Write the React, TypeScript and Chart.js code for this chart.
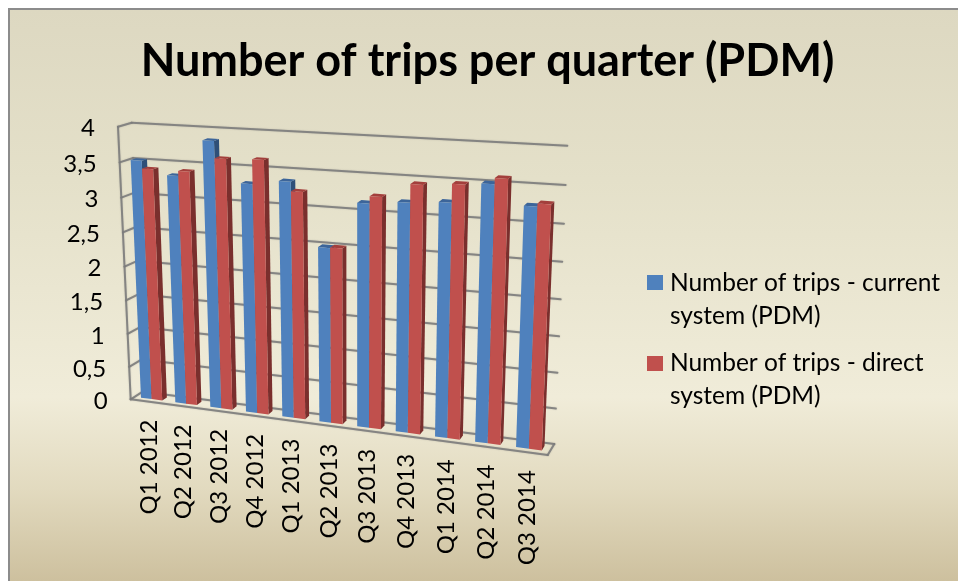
import React, { useEffect, useRef } from "react";
import { Chart, registerables } from "chart.js";

Chart.register(...registerables);

const categories = ["Q1 2012", "Q2 2012", "Q3 2012", "Q4 2012", "Q1 2013", "Q2 2013", "Q3 2013", "Q4 2013", "Q1 2014", "Q2 2014", "Q3 2014"];
const currentSystem = [3.52, 3.34, 3.86, 3.3, 3.37, 2.5, 3.15, 3.2, 3.24, 3.52, 3.27];
const directSystem = [3.41, 3.41, 3.62, 3.64, 3.24, 2.51, 3.25, 3.45, 3.49, 3.6, 3.31];
const currentLabel = ["Number of trips - current", "system (PDM)"];
const directLabel = ["Number of trips - direct", "system (PDM)"];
const titleText = "Number of trips per quarter (PDM)";

type P = [number, number];
const OX = 8, OY = 8; // canvas offset in the page
// Box corners in page pixels: [u=0,v=0], [u=1,v=0], [u=1,v=1], [u=0,v=1]
const frontQuad: P[] = [[130.7, 399.3], [547.7, 455], [559, 153], [118, 126.7]];
const backQuad: P[] = [[142.7, 391.7], [554.3, 444], [567.3, 145.7], [131.7, 122.7]];
const DEPTH_NEAR = 0.32, DEPTH_FAR = 0.72;

function makeHomography(q: P[]) {
  const [[x0, y0], [x1, y1], [x2, y2], [x3, y3]] = q;
  const dx1 = x1 - x2, dx2 = x3 - x2, sx = x0 - x1 + x2 - x3;
  const dy1 = y1 - y2, dy2 = y3 - y2, sy = y0 - y1 + y2 - y3;
  const den = dx1 * dy2 - dx2 * dy1;
  const g = (sx * dy2 - dx2 * sy) / den;
  const h = (dx1 * sy - sx * dy1) / den;
  const a = x1 - x0 + g * x1, b = x3 - x0 + h * x3, c = x0;
  const d = y1 - y0 + g * y1, e = y3 - y0 + h * y3, f = y0;
  return (u: number, v: number): P => {
    const w = g * u + h * v + 1;
    return [(a * u + b * v + c) / w, (d * u + e * v + f) / w];
  };
}
const frontH = makeHomography(frontQuad);
const backH = makeHomography(backQuad);
function project(u: number, v: number, d: number): P {
  const f = frontH(u, v), b = backH(u, v);
  return [f[0] + (b[0] - f[0]) * d - OX, f[1] + (b[1] - f[1]) * d - OY];
}

function poly(ctx: CanvasRenderingContext2D, pts: P[], fill: string) {
  ctx.beginPath();
  pts.forEach((p, i) => (i ? ctx.lineTo(p[0], p[1]) : ctx.moveTo(p[0], p[1])));
  ctx.closePath();
  ctx.fillStyle = fill;
  ctx.fill();
}
function line(ctx: CanvasRenderingContext2D, a: P, b: P) {
  ctx.beginPath();
  ctx.moveTo(a[0], a[1]);
  ctx.lineTo(b[0], b[1]);
  ctx.stroke();
}

const shades = [
  { front: "#4f81bd", side: "#2f4f78", top: "#3c659a" },
  { front: "#c0504d", side: "#7a2f2d", top: "#a33f3c" },
];
const FAMILY = "Lato, 'Noto Sans', sans-serif";
const LABEL_FONT = "24px " + FAMILY;

function swatch(color: string) {
  const c = document.createElement("canvas");
  c.width = 16;
  c.height = 15;
  const g = c.getContext("2d") as CanvasRenderingContext2D;
  g.fillStyle = color;
  g.fillRect(0, 0, 16, 15);
  return c;
}

const box3d = {
  id: "box3d",
  beforeDatasetsDraw(chart: any) {
    const { ctx } = chart;
    const xs = chart.scales.x, ys = chart.scales.y;
    const toU = (x: number) => (x - xs.left) / xs.width;
    const toV = (y: number) => (ys.bottom - y) / ys.height;
    ctx.save();
    // walls and floor
    ctx.save();
    ctx.strokeStyle = "rgba(125,125,125,0.9)";
    ctx.lineWidth = 2;
    ctx.lineCap = "round";
    ctx.shadowColor = "rgba(90,90,90,0.35)";
    ctx.shadowBlur = 1.5;
    ys.ticks.forEach((t: any) => {
      const v = toV(ys.getPixelForValue(t.value));
      line(ctx, project(0, v, 1), project(1, v, 1));
      line(ctx, project(0, v, 0), project(0, v, 1));
    });
    line(ctx, project(0, 0, 0), project(0, 1, 0));
    line(ctx, project(0, 0, 0), project(1, 0, 0));
    line(ctx, project(1, 0, 0), project(1, 0, 1));
    ctx.restore();
    // bars, read from the chart's own bar elements
    const metas = [chart.getDatasetMeta(0), chart.getDatasetMeta(1)];
    categories.forEach((_, i) => {
      metas.forEach((meta, ds) => {
        const el = meta.data[i];
        const u0 = toU(el.x - el.width / 2), u1 = toU(el.x + el.width / 2);
        const v0 = toV(el.base), v1 = toV(el.y);
        const c = shades[ds];
        poly(ctx, [project(u1, v0, DEPTH_NEAR), project(u1, v0, DEPTH_FAR), project(u1, v1, DEPTH_FAR), project(u1, v1, DEPTH_NEAR)], c.side);
        poly(ctx, [project(u0, v1, DEPTH_NEAR), project(u1, v1, DEPTH_NEAR), project(u1, v1, DEPTH_FAR), project(u0, v1, DEPTH_FAR)], c.top);
        poly(ctx, [project(u0, v0, DEPTH_NEAR), project(u1, v0, DEPTH_NEAR), project(u1, v1, DEPTH_NEAR), project(u0, v1, DEPTH_NEAR)], c.front);
      });
    });
    // tick labels
    ctx.fillStyle = "#000";
    ctx.font = LABEL_FONT;
    ctx.textAlign = "right";
    ctx.textBaseline = "middle";
    ys.ticks.forEach((t: any) => {
      const p = project(0, toV(ys.getPixelForValue(t.value)), 0);
      ctx.fillText(t.label, p[0] - 23, p[1] + 2);
    });
    xs.ticks.forEach((t: any, i: number) => {
      const p = project(toU(xs.getPixelForTick(i)), 0, 0);
      ctx.save();
      ctx.translate(p[0] + 1, p[1] + 18);
      ctx.rotate(-Math.PI / 2);
      ctx.fillText(t.label, 0, 0);
      ctx.restore();
    });
    ctx.restore();
    return false;
  },
};

export default function App() {
  const ref = useRef<HTMLCanvasElement>(null);
  useEffect(() => {
    const chart = new Chart(ref.current as HTMLCanvasElement, {
      type: "bar",
      plugins: [box3d],
      data: {
        labels: categories,
        datasets: [
          { label: currentLabel.join(" "), data: currentSystem, backgroundColor: shades[0].front, categoryPercentage: 0.62, barPercentage: 1 },
          { label: directLabel.join(" "), data: directSystem, backgroundColor: shades[1].front, categoryPercentage: 0.62, barPercentage: 1 },
        ],
      },
      options: {
        responsive: false,
        animation: false,
        layout: { padding: { left: 17, right: 8, top: 0, bottom: 150 } },
        scales: {
          x: { display: false, ticks: { autoSkip: false } },
          y: { display: false, min: 0, max: 4, ticks: { stepSize: 0.5, autoSkip: false, callback: (v: any) => String(v).replace(".", ",") } },
        },
        plugins: {
          tooltip: { enabled: false },
          title: {
            display: true,
            text: titleText,
            color: "#000",
            font: { family: FAMILY, size: 45, weight: "bold" },
            padding: { top: 26, bottom: 10 },
          },
          legend: {
            display: true,
            position: "right",
            align: "end",
            labels: {
              usePointStyle: true,
              pointStyleWidth: 5.5,
              boxHeight: 15,
              padding: 14,
              color: "#000",
              font: { family: FAMILY, size: 24.5, lineHeight: 1.35 },
              generateLabels: (c: any) =>
                Chart.defaults.plugins.legend.labels.generateLabels(c).map((it: any, i: number) => ({
                  ...it,
                  text: i === 0 ? currentLabel : directLabel,
                  pointStyle: swatch(shades[i].front),
                  lineWidth: 0,
                })),
            },
          },
        },
      },
    } as any);
    return () => chart.destroy();
  }, []);
  return (
    <div
      style={{
        position: "fixed", left: 8, top: 8, width: 950, height: 573, boxSizing: "border-box", overflow: "hidden",
        background: "linear-gradient(#ddd8c1 0%, #e4e0c9 30%, #f0ecd9 68%, #e2dabf 84%, #cdc09e 100%)",
      }}
    >
      <canvas ref={ref} width={950} height={573} style={{ display: "block" }} />
      <div style={{ position: "absolute", left: 0, top: 0, right: 0, height: 2, background: "#8c8c8c" }} />
      <div style={{ position: "absolute", left: 0, top: 0, bottom: 0, width: 2, background: "#8c8c8c" }} />
    </div>
  );
}
